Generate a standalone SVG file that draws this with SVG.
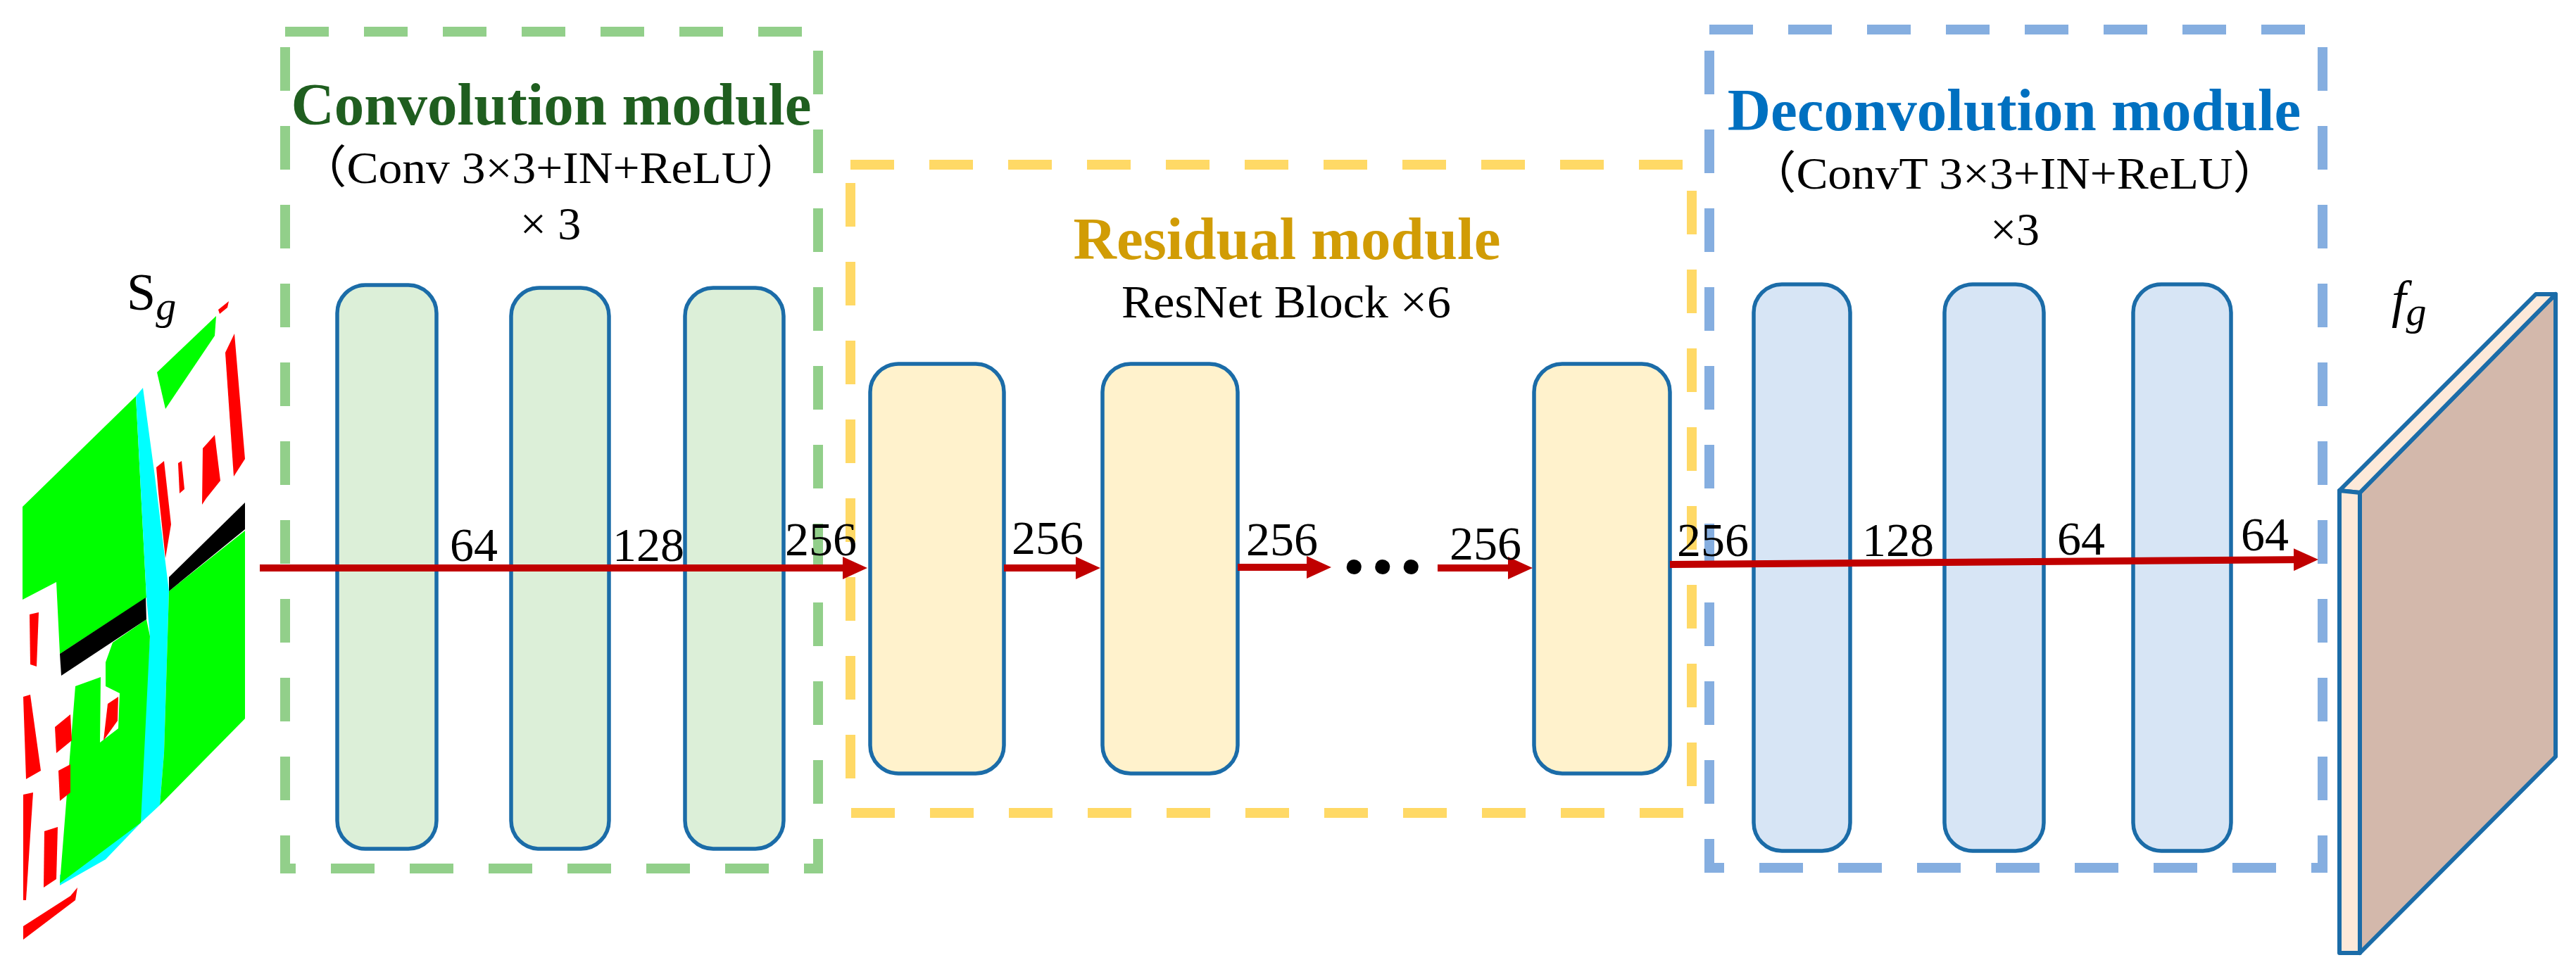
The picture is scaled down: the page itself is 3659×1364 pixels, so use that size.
<svg xmlns="http://www.w3.org/2000/svg" width="3659" height="1364" viewBox="0 0 3659 1364">
<style>
.box{fill:none;stroke-width:14;stroke-dasharray:62 50}
.blk{stroke:#1b6ca8;stroke-width:5.5}
.conv{fill:#dcefd8}
.res{fill:#fff2cc}
.dec{fill:#d7e5f5}
.t{font-family:"Liberation Serif","Noto Sans CJK SC",serif;fill:#000}
.title{font-weight:bold;font-size:85px}
.sub{font-size:64px}
.num{font-size:68px}
.ln{stroke:#c00000;stroke-width:10;fill:none}
.pan{stroke:#1b6ca8;stroke-width:6;stroke-linejoin:round}
</style>
<defs>
<marker id="ah" viewBox="0 0 35 32" refX="23" refY="16" markerWidth="35" markerHeight="32" markerUnits="userSpaceOnUse" orient="auto">
<path d="M0,0 L35,16 L0,32 Z" fill="#c00000"/>
</marker>
</defs>

<g id="input-map">
<polygon points="32,720 193,563 208,849 85,929 80,827 32,852" fill="#00ff00"/>
<polygon points="193,563 203,551 220,677 240,840 233,1070 227,1144 200,1169 150,1221 85,1258 85,1243 196,1160 213,904 208,849" fill="#00ffff"/>
<polygon points="150,941 160,913 208,880 213,904 200,1169 85,1255 107,975 143,962 142,1055 168,1035 170,985 150,975" fill="#00ff00"/>
<polygon points="240,840 348,754 348,1021 227,1144 233,1070" fill="#00ff00"/>
<polygon points="223,529 307,449 305,477 235,581" fill="#00ff00"/>
<polygon points="85,929 207,849 208,880 87,960" fill="#000"/>
<polygon points="240,820 348,714 348,752 240,840" fill="#000"/>
<g fill="#ff0000">
<polygon points="320,501 333,474 348,652 332,677"/>
<polygon points="310,440 325,428 323,437 312,446"/>
<polygon points="288,637 305,618 313,683 293,708 287,717"/>
<polygon points="253,658 258,655 262,695 255,701"/>
<polygon points="222,664 233,655 243,745 235,793 225,700"/>
<polygon points="42,873 55,870 52,947 43,944"/>
<polygon points="33,990 43,987 58,1095 37,1107"/>
<polygon points="78,1033 100,1015 102,1052 80,1070"/>
<polygon points="83,1095 100,1086 100,1126 85,1138"/>
<polygon points="63,1181 82,1175 80,1249 62,1261"/>
<polygon points="33,1129 47,1126 37,1279 33,1279"/>
<polygon points="33,1316 100,1273 110,1261 107,1279 33,1335"/>
<polygon points="147,1052 167,1024 168,990 153,1000"/>
</g>
</g>

<g id="label-sg">
<text class="t" x="180" y="440" font-size="74">S<tspan font-style="italic" font-size="58" dy="14">g</tspan></text>
</g>

<g id="conv-module">
<rect class="box" x="405" y="45" width="757" height="1189" stroke="#92cf8a"/>
<text class="t title" x="783" y="177" text-anchor="middle" style="fill:#1f5e1f">Convolution module</text>
<text class="t sub" x="425" y="260" textLength="716" lengthAdjust="spacingAndGlyphs">（Conv 3×3+IN+ReLU）</text>
<text class="t" x="782" y="340" text-anchor="middle" font-size="66">× 3</text>
</g>
<g id="conv1"><rect class="blk conv" x="479" y="405" width="141" height="801" rx="40"/></g>
<g id="conv2"><rect class="blk conv" x="726" y="409" width="139" height="797" rx="40"/></g>
<g id="conv3"><rect class="blk conv" x="973" y="409" width="140" height="797" rx="40"/></g>

<g id="res-module">
<rect class="box" x="1208" y="234" width="1195" height="921" stroke="#ffd966"/>
<text class="t title" x="1828" y="368" text-anchor="middle" style="fill:#d19c05">Residual module</text>
<text class="t" x="1593" y="451" font-size="66" textLength="468" lengthAdjust="spacingAndGlyphs">ResNet Block ×6</text>
</g>
<g id="res1"><rect class="blk res" x="1236" y="517" width="190" height="582" rx="40"/></g>
<g id="res2"><rect class="blk res" x="1566" y="517" width="192" height="582" rx="40"/></g>
<g id="res3"><rect class="blk res" x="2179" y="517" width="193" height="582" rx="40"/></g>

<g id="deconv-module">
<rect class="box" x="2428" y="42" width="871" height="1191" stroke="#85aee0"/>
<text class="t title" x="2861" y="185" text-anchor="middle" style="fill:#0070c0">Deconvolution module</text>
<text class="t sub" x="2484" y="268" textLength="755" lengthAdjust="spacingAndGlyphs">（ConvT 3×3+IN+ReLU）</text>
<text class="t" x="2862" y="348" text-anchor="middle" font-size="66">×3</text>
</g>
<g id="deconv1"><rect class="blk dec" x="2491" y="404" width="137" height="805" rx="40"/></g>
<g id="deconv2"><rect class="blk dec" x="2762" y="404" width="141" height="805" rx="40"/></g>
<g id="deconv3"><rect class="blk dec" x="3030" y="404" width="139" height="805" rx="40"/></g>

<g id="output-fg">
<polygon class="pan" points="3352,700 3630,418 3630,1075 3352,1354" fill="#d3b8ab"/>
<polygon class="pan" points="3323,697 3602,418 3630,418 3352,700" fill="#fde9d9"/>
<polygon class="pan" points="3323,697 3352,700 3352,1354 3323,1354" fill="#fde9d9"/>
<text class="t" x="3397" y="450" font-size="74" font-style="italic">f<tspan font-size="58" dy="12">g</tspan></text>
</g>

<g id="connectors">
<line class="ln" x1="369" y1="807" x2="1220" y2="807" marker-end="url(#ah)"/>
<line class="ln" x1="1426" y1="807" x2="1551" y2="807" marker-end="url(#ah)"/>
<line class="ln" x1="1758" y1="806" x2="1879" y2="806" marker-end="url(#ah)"/>
<line class="ln" x1="2042" y1="807" x2="2165" y2="807" marker-end="url(#ah)"/>
<line class="ln" x1="2372" y1="802" x2="3281" y2="795" marker-end="url(#ah)"/>
<text class="t" x="1907" y="814" font-size="130" font-weight="bold" letter-spacing="8">...</text>
</g>

<g id="channel-labels">
<text class="t num" x="639" y="797">64</text>
<text class="t num" x="870" y="797">128</text>
<text class="t num" x="1115" y="789">256</text>
<text class="t num" x="1437" y="787">256</text>
<text class="t num" x="1770" y="789">256</text>
<text class="t num" x="2059" y="795">256</text>
<text class="t num" x="2382" y="790">256</text>
<text class="t num" x="2645" y="790">128</text>
<text class="t num" x="2922" y="788">64</text>
<text class="t num" x="3183" y="782">64</text>
</g>
</svg>
